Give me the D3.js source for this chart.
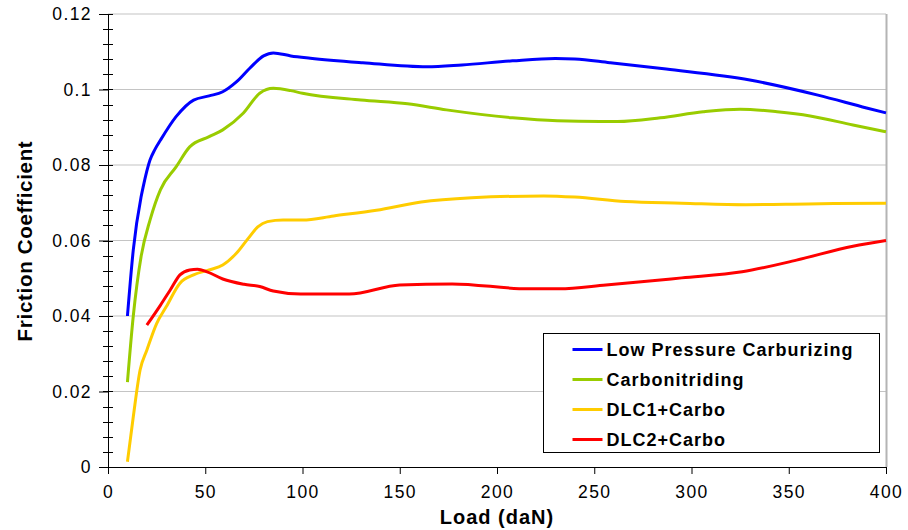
<!DOCTYPE html>
<html>
<head>
<meta charset="utf-8">
<script src="https://cdn.jsdelivr.net/npm/d3@7"></script>
<style>
  body { margin: 0; background: #fff; }
  text { font-family: "Liberation Sans", Arial, sans-serif; }
</style>
</head>
<body>
<div class="chart"></div>
<script>
// series names and colours
var seriesNames = ['Low Pressure Carburizing', 'Carbonitriding', 'DLC1+Carbo', 'DLC2+Carbo']
var colors = ['#0000FF', '#99CC00', '#FFCC00', '#FF0000']

// values: load (daN) and friction coefficient
var lpcLoad = [10, 13, 17, 18, 21.6, 24, 27, 35, 44, 52, 59, 66, 73, 80, 85, 94, 104, 131, 164, 182, 208, 230, 240, 258, 287, 330, 365, 390, 400]
var lpcMu = [0.040, 0.0575, 0.0715, 0.074, 0.0813, 0.084, 0.0866, 0.0928, 0.0972, 0.0983, 0.0994, 0.102, 0.1057, 0.1089, 0.1097, 0.1089, 0.1083, 0.1071, 0.106, 0.1065, 0.1076, 0.1082, 0.1081, 0.1071, 0.1054, 0.1025, 0.0985, 0.0951, 0.0938]

var cnLoad = [10, 13, 17, 21.6, 27, 35, 42, 52, 59, 69.5, 78, 85, 94, 100, 130, 154, 174, 208, 231, 253, 262, 284, 306, 325, 344, 361, 383, 400]
var cnMu = [0.0225, 0.040, 0.0557, 0.0654, 0.0735, 0.0795, 0.0848, 0.0875, 0.0893, 0.0937, 0.099, 0.1003, 0.0997, 0.099, 0.0972, 0.0962, 0.0946, 0.0925, 0.0917, 0.0915, 0.0915, 0.0925, 0.0941, 0.0948, 0.0941, 0.093, 0.0906, 0.0888]

var dlc1Load = [10, 13, 16.5, 20, 25, 30, 37, 44, 52, 59, 66, 72, 77, 82, 90, 100, 116, 138, 161, 187, 224, 240, 266, 295, 328, 360, 400]
var dlc1Mu = [0.0014, 0.0133, 0.0257, 0.031, 0.038, 0.0425, 0.0487, 0.0509, 0.0522, 0.0535, 0.0566, 0.0605, 0.0636, 0.065, 0.0654, 0.0654, 0.0665, 0.068, 0.0702, 0.0713, 0.0718, 0.0715, 0.0703, 0.0699, 0.0695, 0.0697, 0.0699]

var dlc2Load = [20, 27, 32, 37, 42, 46, 51, 59, 70, 78, 85, 99, 124, 150, 177, 216, 232, 256, 295, 326, 354, 383, 400]
var dlc2Mu = [0.0376, 0.0429, 0.0469, 0.0509, 0.0522, 0.0524, 0.0517, 0.0498, 0.0484, 0.0478, 0.0466, 0.0458, 0.0458, 0.0482, 0.0485, 0.0472, 0.0472, 0.0482, 0.0501, 0.0517, 0.0548, 0.0585, 0.060]

var xTicks = [0, 50, 100, 150, 200, 250, 300, 350, 400]
var yTicks = [0, 0.02, 0.04, 0.06, 0.08, 0.1, 0.12]

var width = 908
var height = 530
var margin = {top: 14, right: 22, bottom: 63, left: 108}

var series = [
  {x: lpcLoad, y: lpcMu},
  {x: cnLoad, y: cnMu},
  {x: dlc1Load, y: dlc1Mu},
  {x: dlc2Load, y: dlc2Mu}
]

var svg = d3.select('.chart')
  .append('svg')
  .attr('width', width)
  .attr('height', height)

var x = d3.scaleLinear().domain([0, 400]).range([margin.left, width - margin.right])
var y = d3.scaleLinear().domain([0, 0.12]).range([height - margin.bottom, margin.top])

// grid lines
svg.selectAll('.grid')
  .data(yTicks.slice(1))
  .enter()
  .append('line')
  .attr('x1', x(0))
  .attr('x2', x(400))
  .attr('y1', function (d) { return y(d) })
  .attr('y2', function (d) { return y(d) })
  .attr('stroke', '#c4c4c4')
  .attr('stroke-width', 1.2)

// right border of plot area
svg.append('line')
  .attr('x1', x(400) + 0.5)
  .attr('x2', x(400) + 0.5)
  .attr('y1', y(0.12))
  .attr('y2', y(0))
  .attr('stroke', '#b4b4b4')
  .attr('stroke-width', 2)

// minor y ticks
svg.selectAll('.minor')
  .data(d3.range(0, 31))
  .enter()
  .append('line')
  .attr('x1', x(0) - 5)
  .attr('x2', x(0) + 5)
  .attr('y1', function (d) { return Math.round(y(d * 0.004)) + 0.5 })
  .attr('y2', function (d) { return Math.round(y(d * 0.004)) + 0.5 })
  .attr('stroke', '#000')

// y axis
var yAxis = svg.append('g')
  .attr('transform', 'translate(' + x(0) + ',0)')
  .call(d3.axisLeft(y).tickValues(yTicks).tickSize(9).tickPadding(7)
    .tickFormat(function (d) { return d3.format('~g')(+d.toFixed(2)) }))
yAxis.selectAll('text')
  .attr('font-size', '17.5px')
  .attr('letter-spacing', '1.4px')
  .attr('fill', '#000')
  .style('font-family', '"Liberation Sans", Arial, sans-serif')
yAxis.selectAll('line').attr('stroke', '#000')
yAxis.select('.domain').attr('stroke', '#000').attr('d', 'M0.5,' + y(0) + 'V' + y(0.12))

// x axis
var xAxis = svg.append('g')
  .attr('transform', 'translate(0,' + y(0) + ')')
  .call(d3.axisBottom(x).tickValues(xTicks).tickSize(7).tickPadding(12))
xAxis.selectAll('text')
  .attr('font-size', '17.5px')
  .attr('letter-spacing', '1.4px')
  .attr('fill', '#000')
  .style('font-family', '"Liberation Sans", Arial, sans-serif')
xAxis.selectAll('line').attr('stroke', '#000')
xAxis.select('.domain').attr('stroke', '#000').attr('d', 'M' + x(0) + ',0.5H' + x(400))

// lines
var line = d3.line()
  .x(function (d) { return x(d[0]) })
  .y(function (d) { return y(d[1]) })
  .curve(d3.curveMonotoneX)

svg.selectAll('.series')
  .data(series)
  .enter()
  .append('path')
  .attr('d', function (s) { return line(d3.zip(s.x, s.y)) })
  .attr('fill', 'none')
  .attr('stroke', function (d, i) { return colors[i] })
  .attr('stroke-width', 3)
  .attr('stroke-linejoin', 'round')

// axis titles
svg.append('text')
  .attr('x', (x(0) + x(400)) / 2)
  .attr('y', 524)
  .attr('text-anchor', 'middle')
  .attr('font-size', '20px')
  .attr('letter-spacing', '1px')
  .attr('font-weight', 'bold')
  .text('Load (daN)')

svg.append('text')
  .attr('transform', 'translate(32,241) rotate(-90)')
  .attr('text-anchor', 'middle')
  .attr('font-size', '20.5px')
  .attr('letter-spacing', '0.7px')
  .attr('font-weight', 'bold')
  .text('Friction Coefficient')

// legend
var legend = svg.append('g').attr('transform', 'translate(543.5,333.5)')
legend.append('rect')
  .attr('width', 336)
  .attr('height', 119)
  .attr('fill', '#fff')
  .attr('stroke', '#000')

var rows = legend.selectAll('.row')
  .data(seriesNames)
  .enter()
  .append('g')
  .attr('transform', function (d, i) { return 'translate(0,' + (16 + i * 30) + ')' })

rows.append('line')
  .attr('x1', 29)
  .attr('x2', 59)
  .attr('stroke', function (d, i) { return colors[i] })
  .attr('stroke-width', 3)

rows.append('text')
  .attr('x', 63)
  .attr('y', 6.5)
  .attr('font-size', '18px')
  .attr('letter-spacing', '1px')
  .attr('font-weight', 'bold')
  .text(function (d) { return d })
</script>
</body>
</html>
